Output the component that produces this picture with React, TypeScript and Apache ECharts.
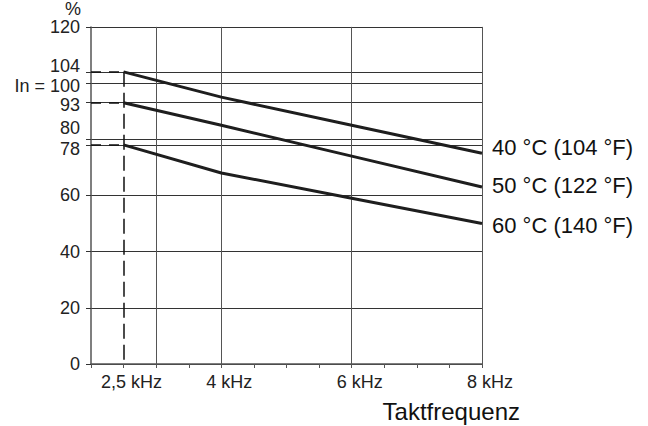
import React, { useEffect, useRef } from "react";
import * as echarts from "echarts";

const freqs = [2.5, 4, 6, 8];
const s40 = [104, 95, 85, 75];
const s50 = [93, 85, 74, 63];
const s60 = [78, 68, 59, 50];
const seriesNames = ["40 °C (104 °F)", "50 °C (122 °F)", "60 °C (140 °F)"];
const yLabelValues = [0, 20, 40, 60, 78, 80, 93, 100, 104, 120];
const xLabelValues = [2.5, 4, 6, 8];
const vGridValues = [3, 4, 6, 8];
const refLevels = [104, 93, 78];
const refFreq = 2.5;

const FONT = "Liberation Sans, Arial, sans-serif";

export default function App() {
  const ref = useRef<HTMLDivElement>(null);
  useEffect(() => {
    if (!ref.current) return;
    const chart = echarts.init(ref.current, null, { renderer: "svg" });
    const allSeries = [s40, s50, s60];
    const offsets = [[0, -6], [0, -2], [0, 2]];
    const series: any[] = allSeries.map((vals, i) => ({
      name: seriesNames[i],
      type: "line",
      data: freqs.map((f, j) => [f, vals[j]]),
      symbol: "none",
      lineStyle: { color: "#1e1e1e", width: 3 },
      z: 5,
      endLabel: {
        show: true,
        formatter: "{a}",
        fontSize: 22,
        fontFamily: FONT,
        color: "#111",
        distance: 10,
        offset: offsets[i],
      },
    }));
    series.push({
      type: "line",
      data: [],
      silent: true,
      markLine: {
        silent: true,
        symbol: "none",
        animation: false,
        label: { show: false },
        data: [
          ...vGridValues.map((v) => ({
            xAxis: v,
            lineStyle: { color: "#555", width: 1, type: "solid" },
          })),
          ...refLevels.map((lvl) => [
            { coord: [2, lvl], lineStyle: { color: "#111", width: 1.5, type: [10, 8] } },
            { coord: [refFreq, lvl] },
          ]),
          [
            { coord: [refFreq, refLevels[0]], lineStyle: { color: "#111", width: 1.5, type: [15, 6] } },
            { coord: [refFreq, 0] },
          ],
        ],
      },
    });
    const lbl = { fontSize: 18, fontFamily: FONT, color: "#222", lineHeight: 14 };
    chart.setOption({
      animation: false,
      grid: { left: 91, right: 166, top: 21, bottom: 62, containLabel: false },
      xAxis: {
        type: "value",
        min: 2,
        max: 8,
        interval: 0.5,
        name: "Taktfrequenz",
        nameLocation: "end",
        nameGap: 38,
        nameTextStyle: {
          fontSize: 24,
          fontFamily: FONT,
          color: "#111",
          align: "right",
          verticalAlign: "top",
          padding: [35, 0, 0, 0],
        },
        axisLine: { lineStyle: { color: "#555", width: 1.5 } },
        axisTick: { show: true, length: 4, lineStyle: { color: "#555" } },
        splitLine: { show: false },
        axisLabel: {
          customValues: xLabelValues,
          formatter: (v: number) => (v === 2.5 ? "2,5 kHz" : `${v} kHz`),
          fontSize: 18,
          fontFamily: FONT,
          color: "#222",
          margin: 9,
          padding: [0, 0, 0, 16],
        },
      },
      yAxis: {
        type: "value",
        min: 0,
        max: 120,
        interval: 20,
        name: "%",
        nameLocation: "end",
        nameGap: 2,
        nameTextStyle: {
          fontSize: 18,
          fontFamily: FONT,
          color: "#222",
          align: "right",
          padding: [0, 10, -3, 0],
        },
        axisLine: { show: true, lineStyle: { color: "#555", width: 1.5 } },
        axisTick: {
          show: true,
          length: 5,
          customValues: [0, 20, 40, 60, 80, 100, 120, 78, 93, 104],
          lineStyle: { color: "#333" },
        },
        splitLine: { show: true, lineStyle: { color: "#333", width: 1 } },
        axisLabel: {
          customValues: yLabelValues,
          formatter: (v: number) => {
            if (v === 100) return "{down1|In = 100}";
            if (v === 104) return "{up1|104}";
            if (v === 93) return "{down2|93}";
            if (v === 80) return "{up|80}";
            if (v === 78) return "{down|78}";
            return `{n|${v}}`;
          },
          fontSize: 18,
          fontFamily: FONT,
          color: "#222",
          margin: 11,
          rich: {
            n: { ...lbl },
            up: { ...lbl, padding: [0, 0, 22, 0] },
            down: { ...lbl, padding: [8, 0, 0, 0] },
            up1: { ...lbl, padding: [0, 0, 12, 0] },
            down1: { ...lbl, padding: [6, 0, 0, 0] },
            down2: { ...lbl, padding: [4, 0, 0, 0] },
          },
        },
      },
      series,
    });
    return () => chart.dispose();
  }, []);
  return (
    <div
      ref={ref}
      style={{ position: "absolute", left: 0, top: 0, width: 648, height: 426 }}
    />
  );
}
